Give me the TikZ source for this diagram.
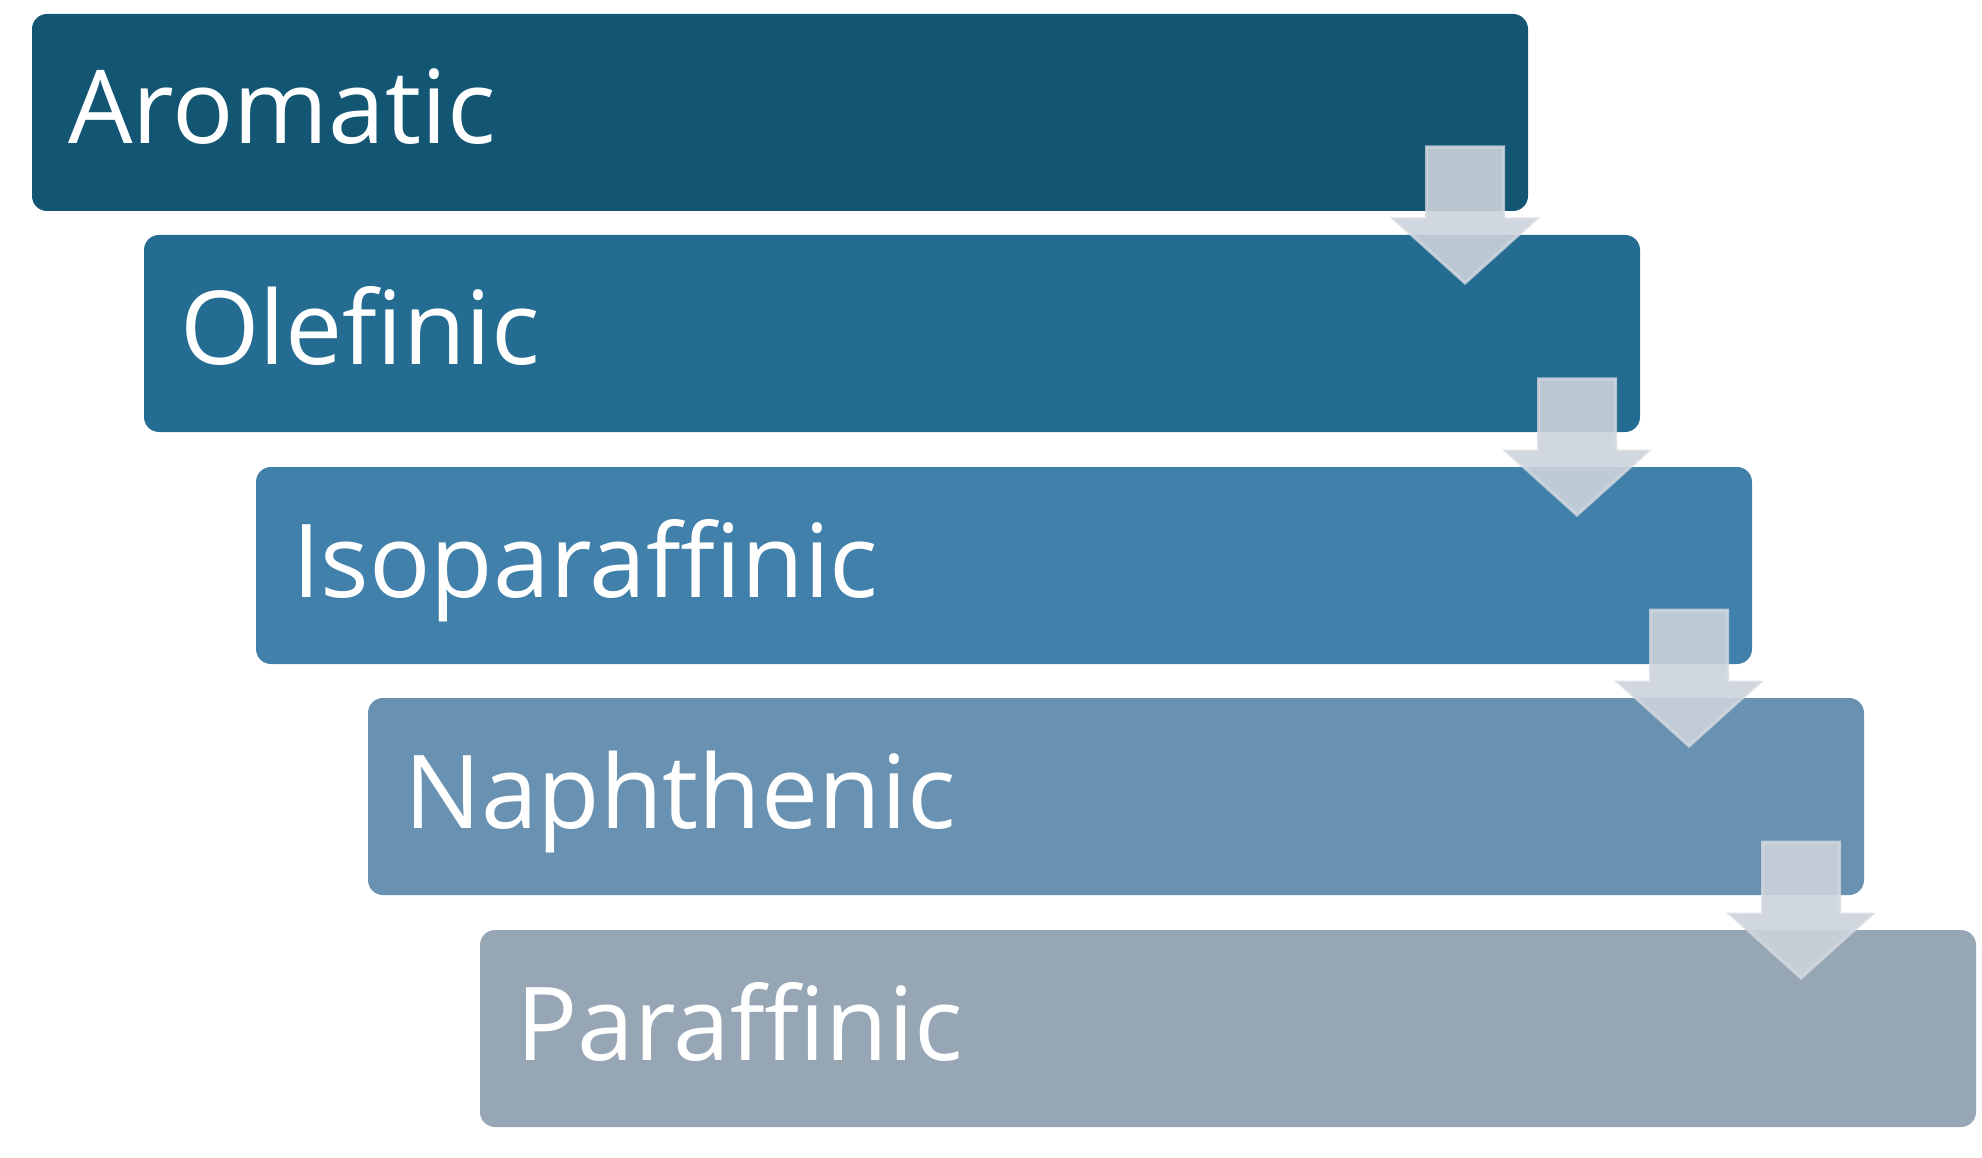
\documentclass[tikz,border=0pt]{standalone}
\usepackage{fontspec}
\setmainfont{Open Sans}
\usetikzlibrary{calc}
\definecolor{c1}{RGB}{19,86,116}
\definecolor{c2}{RGB}{37,108,146}
\definecolor{c3}{RGB}{65,128,170}
\definecolor{c4}{RGB}{104,145,178}
\definecolor{c5}{RGB}{151,166,180}
\definecolor{arrowfill}{RGB}{204,211,219}
\definecolor{arrowedge}{RGB}{212,217,224}
\begin{document}
\begin{tikzpicture}[x=1pt,y=-1pt,
  stepbox/.style={rounded corners=15pt, minimum width=1496pt, minimum height=197pt,
    anchor=north west, inner sep=0pt, outer sep=0pt},
  steptext/.style={anchor=base west, text=white, inner sep=0pt,
    font=\fontsize{102}{110}\selectfont},
  downarrow/.style={fill=arrowfill, fill opacity=0.9, draw=arrowedge, draw opacity=0.8,
    line width=3pt, line join=miter}]
\useasboundingbox (0,0) rectangle (1982,1158);
\node[stepbox, fill=c1] (b1) at (32,14) {};
\node[stepbox, fill=c2] (b2) at (144,235) {};
\node[stepbox, fill=c3] (b3) at (256,467) {};
\node[stepbox, fill=c4] (b4) at (368,698) {};
\node[stepbox, fill=c5] (b5) at (480,930) {};
\node[steptext] (t1) at ($(b1.north west)+(36,130)$) {Aromatic};
\node[steptext] (t2) at ($(b2.north west)+(36,130)$) {Olefinic};
\node[steptext] (t3) at ($(b3.north west)+(36,130)$) {Isoparaffinic};
\node[steptext] (t4) at ($(b4.north west)+(36,130)$) {Naphthenic};
\node[steptext] (t5) at ($(b5.north west)+(36,130)$) {Paraffinic};
\foreach \n in {b2,b3,b4,b5}{
  \draw[downarrow] ($(\n.north east)+(-213.5,-88)$) -- ($(\n.north east)+(-136.5,-88)$)
    -- ($(\n.north east)+(-136.5,-16)$) -- ($(\n.north east)+(-104,-16)$)
    -- ($(\n.north east)+(-175,48)$) -- ($(\n.north east)+(-246,-16)$)
    -- ($(\n.north east)+(-213.5,-16)$) -- cycle;
}
\end{tikzpicture}
\end{document}
